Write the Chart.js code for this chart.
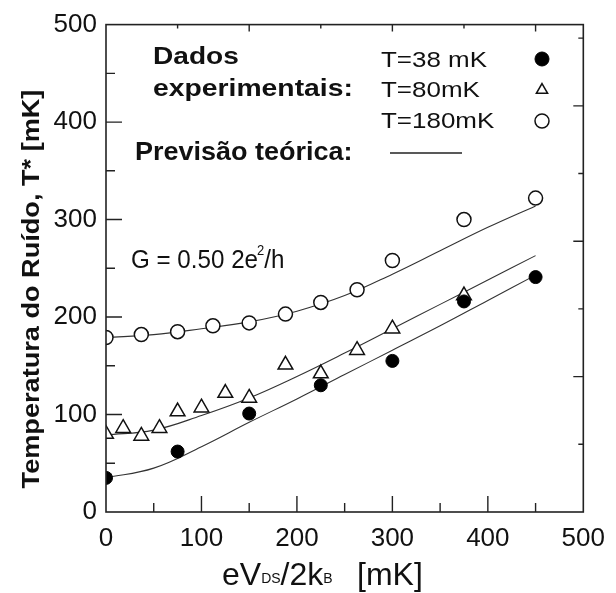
<!DOCTYPE html>
<html>
<head>
<meta charset="utf-8">
<script src="https://cdn.jsdelivr.net/npm/chart.js@4"></script>
<style>
  html, body { margin: 0; padding: 0; background: #fff; }
  #chart { display: block; }
</style>
</head>
<body>
<canvas id="chart" width="616" height="593"></canvas>
<script>
'use strict';

// ── Data (mK) ─────────────────────────────────────────────────────────────────

const T38_X = [0, 75, 150, 225, 300, 375, 450];
const T38_Y = [35, 62, 101, 130, 155, 216, 241];

const T80_X = [0, 18, 37, 56, 75, 100, 125, 150, 188, 225, 263, 300, 375];
const T80_Y = [80, 86, 78, 86, 103, 107, 122, 117, 151, 142, 166, 188, 222];

const T180_X = [0, 37, 75, 112, 150, 188, 225, 263, 300, 375, 450];
const T180_Y = [179, 182, 185, 191, 194, 203, 215, 228, 258, 300, 322];

// theory curves, read at 50 mK steps
const FIT_X    = [0, 50, 100, 150, 200, 250, 300, 350, 400, 450];
const FIT38_Y  = [35, 45, 67, 92, 116, 141, 166, 191, 217, 243];
const FIT80_Y  = [79, 84, 99, 117, 139, 163, 188, 213, 238, 263];
const FIT180_Y = [179, 182, 188, 195, 206, 222, 244, 268, 292, 314];

// axis labels and tick marks
const AXIS_LABELS = [0, 100, 200, 300, 400, 500];
const X_MAJOR = [100, 200, 300, 400];
const X_MINOR = [50, 150, 250, 350, 450];
const Y_MAJOR = [100, 200, 300, 400];
const Y_MINOR = [50, 150, 250, 350, 450];
const TOP_MAJOR = [150, 300, 450];
const TOP_MINOR = [75, 225, 375];
const RIGHT_MAJOR = [200, 400, 600];
const RIGHT_MINOR = [100, 300, 500, 700];

// ── Helpers ───────────────────────────────────────────────────────────────────

const FONT = "'Liberation Sans', Arial, sans-serif";
const INK = '#111';

const pts = (xs, ys) => xs.map((x, i) => ({ x, y: ys[i] }));

function stretchText(ctx, str, x, y, font, sx) {
  ctx.save();
  ctx.font = font;
  ctx.translate(x, y);
  ctx.scale(sx, 1);
  ctx.textAlign = 'left';
  ctx.textBaseline = 'alphabetic';
  ctx.fillText(str, 0, 0);
  const w = ctx.measureText(str).width * sx;
  ctx.restore();
  return w;
}

// ── Frame, inner ticks, titles and legend ─────────────────────────────────────

const decorations = {
  id: 'decorations',
  afterDatasetsDraw(chart) {
    const { ctx, chartArea: a, scales } = chart;
    const { x, y, y2 } = scales;

    ctx.save();
    ctx.strokeStyle = '#222';
    ctx.lineWidth = 1.6;
    ctx.strokeRect(a.left, a.top, a.right - a.left, a.bottom - a.top);

    ctx.lineWidth = 1.4;
    ctx.beginPath();
    const vTick = (v, y0, len) => { const px = x.getPixelForValue(v); ctx.moveTo(px, y0); ctx.lineTo(px, y0 + len); };
    const hTick = (py, x0, len) => { ctx.moveTo(x0, py); ctx.lineTo(x0 + len, py); };
    X_MAJOR.forEach(v => vTick(v, a.bottom, -16));
    X_MINOR.forEach(v => vTick(v, a.bottom, -9));
    TOP_MAJOR.forEach(v => vTick(v, a.top, 7));
    TOP_MINOR.forEach(v => vTick(v, a.top, 4));
    Y_MAJOR.forEach(v => hTick(y.getPixelForValue(v), a.left, 16));
    Y_MINOR.forEach(v => hTick(y.getPixelForValue(v), a.left, 9));
    RIGHT_MAJOR.forEach(v => hTick(y2.getPixelForValue(v), a.right, -10));
    RIGHT_MINOR.forEach(v => hTick(y2.getPixelForValue(v), a.right, -5));
    ctx.stroke();

    ctx.fillStyle = INK;

    // y title
    ctx.save();
    ctx.translate(39, 289);
    ctx.rotate(-Math.PI / 2);
    ctx.scale(1.13, 1);
    ctx.font = `bold 24px ${FONT}`;
    ctx.textAlign = 'center';
    ctx.fillText('Temperatura do Ruído, T* [mK]', 0, 0);
    ctx.restore();

    // x title with subscripts
    let cx = 222;
    cx += stretchText(ctx, 'eV', cx, 585, `32px ${FONT}`, 1);
    cx += stretchText(ctx, 'DS', cx, 583, `14px ${FONT}`, 1);
    cx += stretchText(ctx, '/2k', cx, 585, `32px ${FONT}`, 1);
    stretchText(ctx, 'B', cx, 583, `14px ${FONT}`, 1);
    stretchText(ctx, '[mK]', 357, 585, `32px ${FONT}`, 1);

    // legend block
    const bold = `bold 24px ${FONT}`;
    stretchText(ctx, 'Dados', 153, 64, bold, 1.17);
    stretchText(ctx, 'experimentais:', 153, 96, bold, 1.18);
    stretchText(ctx, 'Previsão teórica:', 135, 160, `bold 25px ${FONT}`, 1.08);

    const norm = `22px ${FONT}`;
    stretchText(ctx, 'T=38 mK', 381, 67, norm, 1.18);
    stretchText(ctx, 'T=80mK', 381, 97, norm, 1.18);
    stretchText(ctx, 'T=180mK', 381, 128, norm, 1.18);

    ctx.strokeStyle = '#222';
    ctx.lineWidth = 1.4;
    ctx.beginPath();
    ctx.moveTo(390, 153);
    ctx.lineTo(462, 153);
    ctx.stroke();

    const marks = [
      { ds: 0, yy: 59, r: 7 },
      { ds: 1, yy: 90, r: 6.5 },
      { ds: 2, yy: 121, r: 7 },
    ];
    marks.forEach(m => {
      const d = chart.data.datasets[m.ds];
      ctx.fillStyle = d.backgroundColor;
      ctx.strokeStyle = d.borderColor;
      ctx.lineWidth = d.borderWidth;
      Chart.helpers.drawPoint(ctx, {
        pointStyle: d.pointStyle,
        radius: m.r,
        rotation: 0,
        borderWidth: d.borderWidth,
      }, 542, m.yy);
    });

    // conductance note
    ctx.fillStyle = INK;
    let gx = 131;
    gx += stretchText(ctx, 'G = 0.50 2e', gx, 268, `26px ${FONT}`, 0.93);
    gx += stretchText(ctx, '2', gx - 1, 255, `14px ${FONT}`, 0.93);
    stretchText(ctx, '/h', gx - 1, 268, `26px ${FONT}`, 0.93);

    ctx.restore();
  },
};

// ── Chart ─────────────────────────────────────────────────────────────────────

const fitLine = (data) => ({
  data,
  showLine: true,
  pointRadius: 0,
  borderColor: '#333',
  borderWidth: 1.1,
  tension: 0.4,
  fill: false,
});

new Chart(document.getElementById('chart'), {
  type: 'scatter',
  data: {
    datasets: [
      {
        label: 'T=38 mK',
        data: pts(T38_X, T38_Y),
        pointStyle: 'circle',
        pointRadius: 6.5,
        backgroundColor: '#000',
        borderColor: '#000',
        borderWidth: 1,
      },
      {
        label: 'T=80mK',
        data: pts(T80_X, T80_Y),
        pointStyle: 'triangle',
        pointRadius: 8.5,
        backgroundColor: '#fff',
        borderColor: '#111',
        borderWidth: 1.5,
      },
      {
        label: 'T=180mK',
        data: pts(T180_X, T180_Y),
        pointStyle: 'circle',
        pointRadius: 7,
        backgroundColor: '#fff',
        borderColor: '#111',
        borderWidth: 1.5,
      },
      fitLine(pts(FIT_X, FIT38_Y)),
      fitLine(pts(FIT_X, FIT80_Y)),
      fitLine(pts(FIT_X, FIT180_Y)),
    ],
  },
  options: {
    responsive: false,
    animation: false,
    layout: { padding: { left: 0, top: 22, right: 24, bottom: 0 } },
    plugins: {
      legend: { display: false },
      tooltip: { enabled: false },
    },
    scales: {
      x: {
        type: 'linear',
        min: 0,
        max: 500,
        afterBuildTicks: s => { s.ticks = AXIS_LABELS.map(v => ({ value: v })); },
        afterFit: s => { s.height = 81; },
        ticks: { font: { family: FONT, size: 26 }, color: INK, padding: 11, maxRotation: 0 },
        grid: { display: false, drawTicks: false },
        border: { display: false },
      },
      y: {
        type: 'linear',
        min: 0,
        max: 500,
        afterBuildTicks: s => { s.ticks = AXIS_LABELS.map(v => ({ value: v })); },
        afterFit: s => { s.width = 106; },
        ticks: { font: { family: FONT, size: 26 }, color: INK, padding: 9 },
        grid: { display: false, drawTicks: false },
        border: { display: false },
      },
      y2: {
        type: 'linear',
        position: 'right',
        min: 0,
        max: 720,
        display: false,
      },
    },
  },
  plugins: [decorations],
});
</script>
</body>
</html>
